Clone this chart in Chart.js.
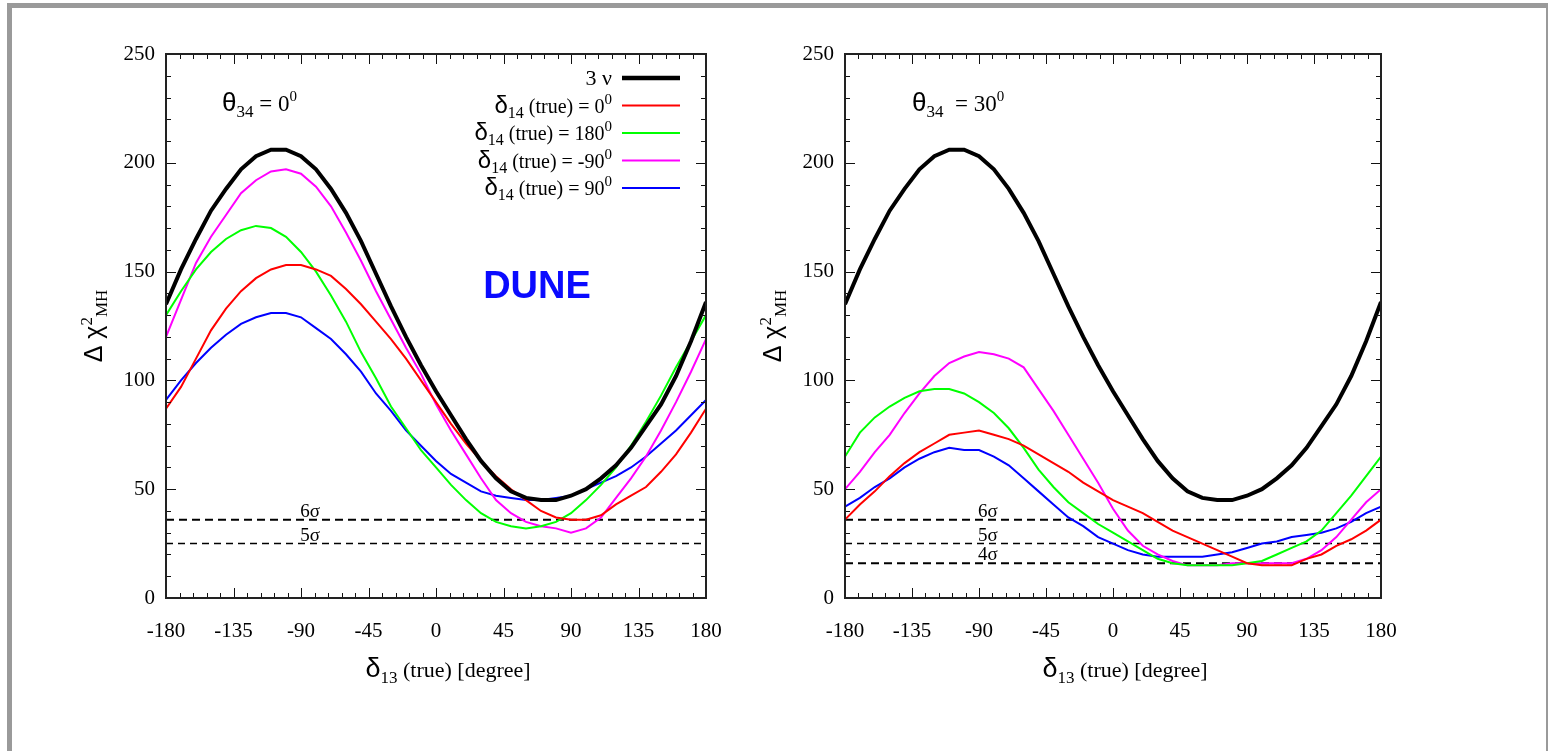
<!DOCTYPE html>
<html>
<head>
<meta charset="utf-8">
<script src="https://cdn.jsdelivr.net/npm/chart.js@4.4.1/dist/chart.umd.min.js"></script>
<style>
  html, body { margin: 0; padding: 0; background: #fff; }
  body { width: 1549px; height: 751px; overflow: hidden; position: relative; }
  #frame { position: absolute; left: 7px; top: 3px; width: 1534px; height: 800px;
           border-left: 5px solid #9a9a9a; border-top: 5px solid #9a9a9a; border-right: 2px solid #9a9a9a; }
  canvas { position: absolute; top: 20px; }
  #c1 { left: 60px; }
  #c2 { left: 739px; }
</style>
</head>
<body>
<div id="frame"></div>
<canvas id="c1" width="684" height="680"></canvas>
<canvas id="c2" width="680" height="680"></canvas>
<script>
// delta_13 (true) in degrees
const delta13 = [-180, -170, -160, -150, -140, -130, -120, -110, -100, -90, -80, -70, -60, -50, -40, -30, -20, -10,
                 0, 10, 20, 30, 40, 50, 60, 70, 80, 90, 100, 110, 120, 130, 140, 150, 160, 170, 180];

// 3 nu (same in both panels)
const threeNu = [135, 151, 165, 178, 188, 197, 203, 206, 206, 203, 197, 188, 177, 164, 149, 134, 120, 107,
                 95, 84, 73, 63, 55, 49, 46, 45, 45, 47, 50, 55, 61, 69, 79, 89, 102, 118, 136];

// theta34 = 0
const th0_d0 = [87, 97, 110, 123, 133, 141, 147, 151, 153, 153, 151, 148, 142, 135, 127, 119, 110, 100,
                90, 80, 71, 63, 56, 50, 45, 40, 37, 36, 36, 38, 43, 47, 51, 58, 66, 76, 87];
const th0_d180 = [130, 141, 151, 159, 165, 169, 171, 170, 166, 159, 150, 139, 127, 113, 101, 88, 78, 68,
                  60, 52, 45, 39, 35, 33, 32, 33, 35, 39, 45, 52, 60, 70, 81, 93, 106, 118, 130];
const th0_dm90 = [120, 137, 154, 166, 176, 186, 192, 196, 197, 195, 189, 180, 168, 155, 141, 128, 115, 103,
                  89, 77, 66, 55, 45, 39, 35, 33, 32, 30, 32, 37, 46, 55, 65, 77, 90, 104, 119];
const th0_d90 = [91, 100, 108, 115, 121, 126, 129, 131, 131, 129, 124, 119, 112, 104, 94, 86, 77, 70,
                 63, 57, 53, 49, 47, 46, 45, 45, 46, 47, 50, 53, 56, 60, 65, 71, 77, 84, 91];

// theta34 = 30
const th30_d0 = [36, 43, 49, 56, 62, 67, 71, 75, 76, 77, 75, 73, 70, 66, 62, 58, 53, 49,
                 45, 42, 39, 35, 31, 28, 25, 22, 19, 16, 15, 15, 15, 18, 20, 24, 27, 31, 36];
const th30_d180 = [65, 76, 83, 88, 92, 95, 96, 96, 94, 90, 85, 78, 69, 59, 51, 44, 39, 34,
                   30, 26, 22, 18, 16, 15, 15, 15, 15, 16, 17, 20, 23, 26, 31, 39, 47, 56, 65];
const th30_dm90 = [50, 58, 67, 75, 85, 94, 102, 108, 111, 113, 112, 110, 106, 96, 86, 75, 64, 53,
                   41, 31, 24, 20, 17, 15, 15, 15, 16, 16, 16, 16, 16, 18, 22, 28, 36, 44, 50];
const th30_d90 = [42, 46, 51, 55, 60, 64, 67, 69, 68, 68, 65, 61, 55, 49, 43, 37, 33, 28,
                  25, 22, 20, 19, 19, 19, 19, 20, 21, 23, 25, 26, 28, 29, 30, 32, 35, 39, 42];

const d14Labels = ['0', '180', '-90', '90'];
const seriesColors = ['#ff0000', '#00ff00', '#ff00ff', '#0000ff'];

// sigma levels: delta chi^2 = n^2
const sigmaNames = ['6σ', '5σ', '4σ'];
const sigmaLevels = [36, 25, 16];

const xTickStep = 45, xMinor = 9;
const yTickStep = 50, yMinor = 10;

const SERIF = '"Liberation Serif", "Times New Roman", serif';
const SANS = '"Liberation Sans", Arial, sans-serif';

function pts(arr) { return delta13.map((d, i) => ({ x: d, y: arr[i] })); }

function rich(ctx, x, y, segs, align) {
  let w = 0;
  segs.forEach(s => { ctx.font = s[1]; w += ctx.measureText(s[0]).width; });
  let cx = align === 'right' ? x - w : align === 'center' ? x - w / 2 : x;
  segs.forEach(s => {
    ctx.font = s[1];
    ctx.fillText(s[0], cx, y + (s[2] || 0));
    cx += ctx.measureText(s[0]).width;
  });
}

// frame, inward ticks and all the labels with sub/superscripts
const gnuPlot = {
  id: 'gnuPlot',
  afterDatasetsDraw(chart, args, opts) {
    const { ctx, chartArea: a, scales: { x, y } } = chart;
    ctx.save();
    ctx.strokeStyle = '#111';
    ctx.lineWidth = 1;
    ctx.beginPath();
    for (let v = x.min; v <= x.max; v += xMinor) {
      const px = Math.round(x.getPixelForValue(v)) + 0.5;
      const len = v % xTickStep === 0 ? 10 : 5;
      ctx.moveTo(px, a.bottom); ctx.lineTo(px, a.bottom - len);
      ctx.moveTo(px, a.top); ctx.lineTo(px, a.top + len);
    }
    for (let v = y.min; v <= y.max; v += yMinor) {
      const py = Math.round(y.getPixelForValue(v)) + 0.5;
      const len = v % yTickStep === 0 ? 10 : 5;
      ctx.moveTo(a.left, py); ctx.lineTo(a.left + len, py);
      ctx.moveTo(a.right, py); ctx.lineTo(a.right - len, py);
    }
    ctx.stroke();
    ctx.lineWidth = 2;
    ctx.strokeStyle = '#222';
    ctx.strokeRect(a.left, a.top, a.width, a.height);

    ctx.fillStyle = '#000';
    ctx.textBaseline = 'alphabetic';

    // sigma labels
    opts.sigmas.forEach(i => {
      ctx.font = '19px ' + SERIF;
      ctx.textAlign = 'center';
      ctx.fillText(sigmaNames[i], x.getPixelForValue(-84), y.getPixelForValue(sigmaLevels[i]) - 3);
    });
    ctx.textAlign = 'left';

    // panel title
    rich(ctx, a.left + opts.titleDx, a.top + 57, [
      ['θ', '26px ' + SANS], ['34', '17px ' + SERIF, 6], [opts.titleEq, '23px ' + SERIF],
      [opts.titleVal, '23px ' + SERIF], ['0', '15px ' + SERIF, -10]
    ], 'left');

    // x axis title
    rich(ctx, (a.left + a.right) / 2 + 12, a.bottom + 79, [
      ['δ', '27px ' + SANS], ['13', '17px ' + SERIF, 6], [' (true) [degree]', '22px ' + SERIF]
    ], 'center');

    // y axis title
    ctx.save();
    ctx.translate(a.left - 64, (a.top + a.bottom) / 2);
    ctx.rotate(-Math.PI / 2);
    rich(ctx, 0, 0, [
      ['Δ χ', '25px ' + SANS], ['2', '17px ' + SERIF, -10], ['MH', '17px ' + SERIF, 5]
    ], 'center');
    ctx.restore();

    if (opts.legend) {
      const lx1 = a.right - 84, lx2 = a.right - 26, tx = a.right - 94;
      const rows = [{ segs: [['3 ν', '22px ' + SERIF]], color: '#000', w: 4.5 }];
      d14Labels.forEach((v, i) => rows.push({
        segs: [['δ', '24px ' + SANS], ['14', '16px ' + SERIF, 5], [' (true) = ' + v, '20px ' + SERIF], ['0', '15px ' + SERIF, -9]],
        color: seriesColors[i], w: 2
      }));
      rows.forEach((r, i) => {
        const ry = a.top + 24 + i * 27.5;
        ctx.strokeStyle = r.color; ctx.lineWidth = r.w;
        ctx.beginPath(); ctx.moveTo(lx1, ry); ctx.lineTo(lx2, ry); ctx.stroke();
        ctx.fillStyle = '#000';
        rich(ctx, tx, ry + 7, r.segs, 'right');
      });

      ctx.fillStyle = '#0a0aff';
      ctx.font = 'bold 38px ' + SANS;
      ctx.textAlign = 'center';
      ctx.fillText('DUNE', a.left + 371, a.top + 244);
    }
    ctx.restore();
  }
};

function makeChart(id, curves, sigmaIdx, extra) {
  const datasets = [];
  datasets.push({ data: pts(threeNu), borderColor: '#000', borderWidth: 4 });
  curves.forEach((c, i) => datasets.push({ data: pts(c), borderColor: seriesColors[i], borderWidth: 2 }));
  sigmaIdx.forEach(i => datasets.push({
    data: [{ x: delta13[0], y: sigmaLevels[i] }, { x: delta13[delta13.length - 1], y: sigmaLevels[i] }],
    borderColor: '#000', borderWidth: i === 1 ? 1.5 : 2, borderDash: i === 1 ? [7, 5] : [8, 5]
  }));
  datasets.forEach(d => { d.pointRadius = 0; d.tension = 0; d.fill = false; });

  return new Chart(document.getElementById(id), {
    type: 'line',
    data: { datasets },
    options: {
      responsive: false,
      animation: false,
      events: [],
      layout: { padding: { top: 34, right: 38, left: 0, bottom: 0 } },
      plugins: {
        legend: { display: false },
        tooltip: { enabled: false },
        gnuPlot: Object.assign({ sigmas: sigmaIdx }, extra)
      },
      scales: {
        x: {
          type: 'linear', min: -180, max: 180,
          grid: { display: false, drawTicks: false }, border: { display: false },
          ticks: { stepSize: xTickStep, padding: 21, color: '#000', font: { family: SERIF, size: 21 } },
          afterFit(s) { s.height = 102; }
        },
        y: {
          min: 0, max: 250,
          grid: { display: false, drawTicks: false }, border: { display: false },
          ticks: { stepSize: yTickStep, padding: 11, color: '#000', font: { family: SERIF, size: 21 } },
          afterFit(s) { s.width = 106; }
        }
      }
    },
    plugins: [gnuPlot]
  });
}

makeChart('c1', [th0_d0, th0_d180, th0_dm90, th0_d90], [0, 1],
  { legend: true, titleDx: 56, titleEq: ' = ', titleVal: '0' });
makeChart('c2', [th30_d0, th30_d180, th30_dm90, th30_d90], [0, 1, 2],
  { legend: false, titleDx: 67, titleEq: '  = ', titleVal: '30' });
</script>
</body>
</html>
